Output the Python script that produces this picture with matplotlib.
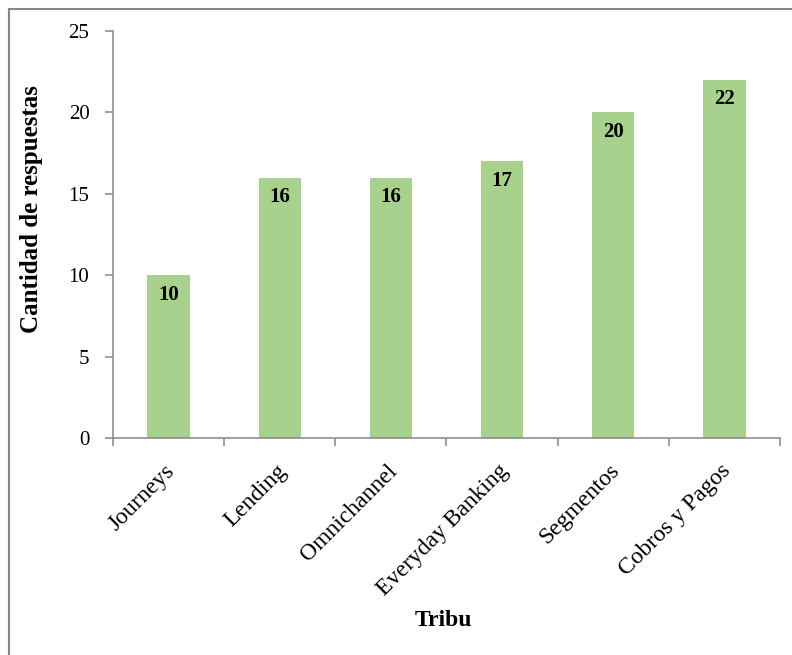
import matplotlib.pyplot as plt
from matplotlib.patches import Rectangle
from matplotlib.transforms import ScaledTranslation

tribus = ["Journeys", "Lending", "Omnichannel", "Everyday Banking", "Segmentos", "Cobros y Pagos"]
respuestas = [10, 16, 16, 17, 20, 22]

plt.rcParams['font.family'] = ['Liberation Serif', 'DejaVu Serif']

bar_color = "#A9D18E"
axis_color = "#868686"

fig = plt.figure(figsize=(7.92, 6.55), dpi=100)
ax = fig.add_axes([113 / 792, 1 - 438 / 655, 667 / 792, 407 / 655])

x = list(range(len(tribus)))
bars = ax.bar(x, respuestas, width=0.38, color=bar_color, zorder=2)

for rect, val in zip(bars, respuestas):
    ax.annotate(str(val), (rect.get_x() + rect.get_width() / 2, rect.get_height()),
                xytext=(0, -14), textcoords="offset points",
                ha="center", va="center", fontsize=15, fontweight="bold")

ax.set_xlim(-0.5, len(tribus) - 0.5)
ax.set_ylim(0, 25)
ax.set_yticks([0, 5, 10, 15, 20, 25])

ax.set_xticks(x)
ax.set_xticklabels(tribus, rotation=45, ha="right", rotation_mode="anchor")
ax.set_xticks([i - 0.5 for i in range(len(tribus) + 1)], minor=True)
ax.tick_params(axis="x", which="major", length=0, pad=16, labelsize=17)
ax.tick_params(axis="x", which="minor", length=6, width=1.1, color=axis_color)
ax.tick_params(axis="y", length=6, width=1.1, color=axis_color, pad=11, labelsize=15)

# nudge rotated category labels slightly left
shift = ScaledTranslation(-4 / 100, 0, fig.dpi_scale_trans)
for lbl in ax.get_xticklabels():
    lbl.set_transform(lbl.get_transform() + shift)

for side in ["top", "right"]:
    ax.spines[side].set_visible(False)
for side in ["left", "bottom"]:
    ax.spines[side].set_color(axis_color)
    ax.spines[side].set_linewidth(1.1)

ax.set_ylabel("Cantidad de respuestas", fontsize=18, fontweight="bold")
ax.yaxis.set_label_coords(32 / 792, 1 - 209 / 655, transform=fig.transFigure)
ax.yaxis.label.set_va("center")
ax.set_xlabel("Tribu", fontsize=17, fontweight="bold")
ax.xaxis.set_label_coords(443 / 792, 1 - 620 / 655, transform=fig.transFigure)
ax.xaxis.label.set_va("center")

# chart area frame, running off the right and bottom edges
fig.patches.append(Rectangle((8.5 / 792, -0.1), 1.2, 1 - 8.5 / 655 + 0.1,
                             transform=fig.transFigure, fill=False,
                             edgecolor=axis_color, linewidth=1.5))

fig.savefig("out.png", dpi=100)
